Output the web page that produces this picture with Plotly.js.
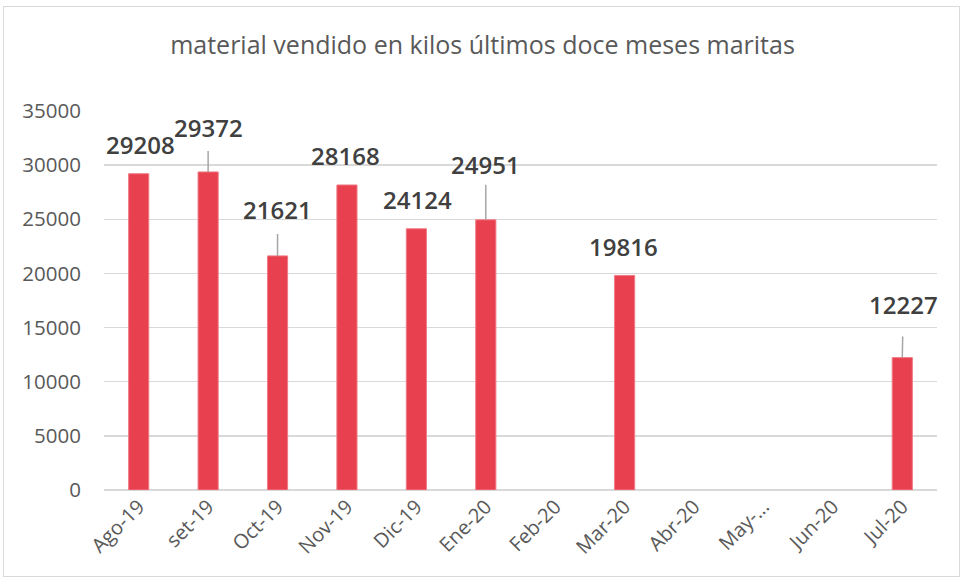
<!DOCTYPE html>
<html>
<head>
<meta charset="utf-8">
<script src="https://cdn.plot.ly/plotly-3.0.1.min.js"></script>
<style>
  html, body { margin: 0; padding: 0; background: #ffffff; }
  #chart { width: 965px; height: 583px; position: absolute; left: 0; top: 0; }
  #frame { position: absolute; left: 3px; top: 6px; width: 957px; height: 571px;
           border: 1px solid #d9d9d9; pointer-events: none; box-sizing: border-box; }
</style>
</head>
<body>
<div id="chart"></div>
<div id="frame"></div>
<script>
// ---- data ----
const months = ["Ago-19", "set-19", "Oct-19", "Nov-19", "Dic-19", "Ene-20",
                "Feb-20", "Mar-20", "Abr-20", "May-20", "Jun-20", "Jul-20"];
const tickText = ["Ago-19", "set-19", "Oct-19", "Nov-19", "Dic-19", "Ene-20",
                  "Feb-20", "Mar-20", "Abr-20", "May-...", "Jun-20", "Jul-20"];
const kilos = [29208, 29372, 21621, 28168, 24124, 24951,
               null, 19816, null, null, null, 12227];

// ---- label placement (pixel offsets above bar top, leader line flag) ----
const labelOffset = [29, 44, 46, 29, 29, 55, 0, 29, 0, 0, 0, 53];
const hasLeader   = [false, true, true, false, false, true, false, false, false, false, false, true];
const leaderGap   = [0, 5, 6, 0, 0, 2, 0, 0, 0, 0, 0, 14];
const labelDx     = [2, 0, 0, -1, 1, 0, 0, -1, 0, 0, 0, 1];

const FONT = "Open Sans, DejaVu Sans, sans-serif";
const annotations = [];
months.forEach((m, i) => {
  if (kilos[i] === null) return;
  const txt = String(kilos[i]);
  const font = { family: FONT, size: 24, weight: 600, color: "#404040" };
  if (hasLeader[i]) {
    annotations.push({
      x: m, y: kilos[i], xref: "x", yref: "y",
      text: txt, font: font,
      showarrow: true, arrowhead: 0, arrowwidth: 1.5, arrowcolor: "#a6a6a6",
      ax: labelDx[i], ay: -labelOffset[i], standoff: 0, startstandoff: leaderGap[i]
    });
  } else {
    annotations.push({
      x: m, y: kilos[i], xref: "x", yref: "y",
      text: txt, font: font, showarrow: false,
      xshift: labelDx[i], yshift: labelOffset[i], yanchor: "middle"
    });
  }
});

const trace = {
  type: "bar",
  x: months,
  y: kilos,
  marker: { color: "#e8404f", line: { color: "#f07a85", width: 1 } },
  width: 0.29,
  hoverinfo: "x+y"
};

const layout = {
  width: 965, height: 583,
  margin: { l: 104, r: 28, t: 111, b: 93 },
  paper_bgcolor: "#ffffff", plot_bgcolor: "#ffffff",
  showlegend: false,
  title: {
    text: "material vendido en kilos últimos doce meses maritas",
    font: { family: FONT, size: 25, color: "#595959" },
    x: 0.5, xanchor: "center", y: 0.922, yanchor: "middle"
  },
  xaxis: {
    type: "category",
    categoryorder: "array", categoryarray: months,
    tickmode: "array", tickvals: months, ticktext: tickText,
    tickangle: -45,
    tickfont: { family: FONT, size: 20, color: "#595959" },
    showgrid: false, zeroline: false,
    showline: false, ticks: "", ticklen: 0,
    range: [-0.5, 11.5]
  },
  yaxis: {
    range: [0, 35000],
    tickmode: "array", tickvals: [0, 5000, 10000, 15000, 20000, 25000, 30000, 35000],
    tickfont: { family: FONT, size: 20.5, color: "#595959" },
    showgrid: true, gridcolor: "#d9d9d9", gridwidth: 1.5,
    zeroline: true, zerolinecolor: "#d9d9d9", zerolinewidth: 1.5,
    showline: false, ticks: "outside", ticklen: 18, tickcolor: "rgba(0,0,0,0)",
    tickformat: "d"
  },
  annotations: annotations
};

Plotly.newPlot("chart", [trace], layout, { displayModeBar: false, staticPlot: true });
</script>
</body>
</html>
